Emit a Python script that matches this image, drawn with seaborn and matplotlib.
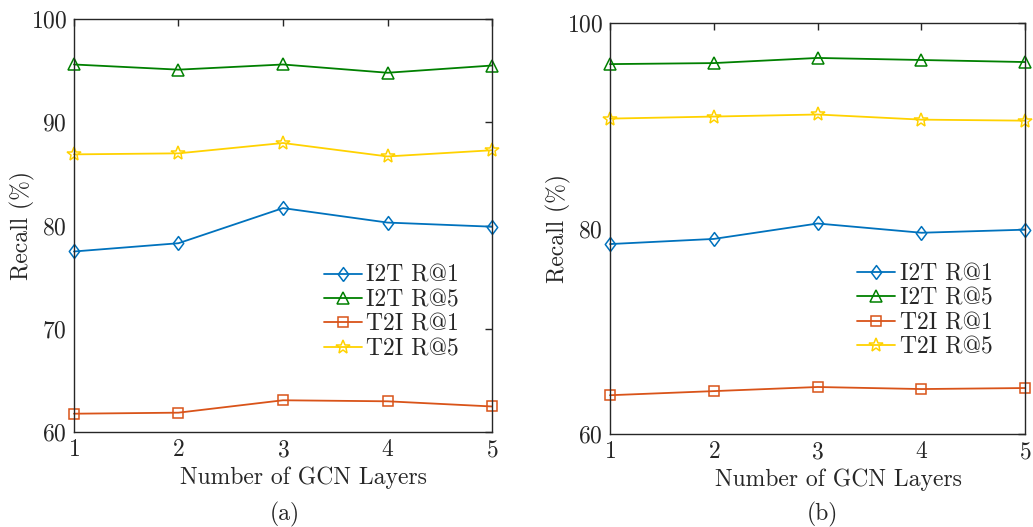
import matplotlib
matplotlib.use("Agg")
import matplotlib.pyplot as plt
import seaborn as sns
import pandas as pd

layers = [1, 2, 3, 4, 5]
series_names = ["I2T R@1", "I2T R@5", "T2I R@1", "T2I R@5"]

# panel (a)
a_i2t_r1 = [77.5, 78.3, 81.7, 80.3, 79.9]
a_i2t_r5 = [95.6, 95.1, 95.6, 94.8, 95.5]
a_t2i_r1 = [61.8, 61.9, 63.1, 63.0, 62.5]
a_t2i_r5 = [86.9, 87.0, 88.0, 86.7, 87.3]

# panel (b)
b_i2t_r1 = [78.5, 79.0, 80.5, 79.6, 79.9]
b_i2t_r5 = [96.0, 96.1, 96.6, 96.4, 96.2]
b_t2i_r1 = [63.8, 64.2, 64.6, 64.4, 64.5]
b_t2i_r5 = [90.7, 90.9, 91.1, 90.6, 90.5]

a_ticks = [60, 70, 80, 90, 100]
b_ticks = [60, 80, 100]

colors = ["#0072BD", "#008000", "#D95319", "#FFD200"]
diamond = [(0, -1), (0.75, 0), (0, 1), (-0.75, 0), (0, -1)]
markers = [diamond, "^", "s", "*"]
msizes = [10, 9, 7, 10]

FS = 17

sns.set_theme(style="white")
plt.rcParams.update({
    "font.family": ["cmr10", "DejaVu Serif"],
    "mathtext.fontset": "cm",
    "axes.formatter.use_mathtext": True,
    "axes.edgecolor": "#262626",
    "axes.linewidth": 1.0,
    "xtick.color": "#262626",
    "ytick.color": "#262626",
    "text.color": "#262626",
    "axes.labelcolor": "#262626",
})

fig = plt.figure(figsize=(10.33, 5.27), dpi=100)
ax_a = fig.add_axes([0.0716, 0.1797, 0.4047, 0.7842])
ax_b = fig.add_axes([0.5905, 0.1759, 0.4020, 0.7805])


def draw(ax, data, yticks, leg_y):
    for name, vals, c, m, ms in zip(series_names, data, colors, markers, msizes):
        df = pd.DataFrame({"layers": layers, "recall": vals})
        sns.lineplot(data=df, x="layers", y="recall", ax=ax, color=c,
                     marker=m, markersize=ms, markerfacecolor="none",
                     markeredgecolor=c, markeredgewidth=1.1, linewidth=1.3,
                     label=name, clip_on=False)
    ax.set_xlim(1, 5)
    ax.set_ylim(60, 100)
    ax.set_xticks(layers)
    ax.set_yticks(yticks)
    ax.tick_params(direction="in", top=True, right=True, length=5,
                   width=1.0, labelsize=FS, pad=5)
    ax.set_xlabel("Number of GCN Layers", fontsize=FS, labelpad=4)
    ax.xaxis.label.set_x(0.55)
    ax.set_ylabel("Recall (%)", fontsize=FS, labelpad=-3)
    for s in ax.spines.values():
        s.set_visible(True)
    ax.legend(loc="center right", bbox_to_anchor=(0.944, leg_y), frameon=False,
              fontsize=FS, handlelength=1.6, handletextpad=0.2,
              labelspacing=0.1, borderaxespad=0.0)


draw(ax_a, [a_i2t_r1, a_i2t_r5, a_t2i_r1, a_t2i_r5], a_ticks, 0.29)
draw(ax_b, [b_i2t_r1, b_i2t_r5, b_t2i_r1, b_t2i_r5], b_ticks, 0.30)

fig.text(0.276, 0.023, "(a)", ha="center", va="center", fontsize=FS)
fig.text(0.796, 0.023, "(b)", ha="center", va="center", fontsize=FS)

fig.savefig("out.png", dpi=100, facecolor="white")
